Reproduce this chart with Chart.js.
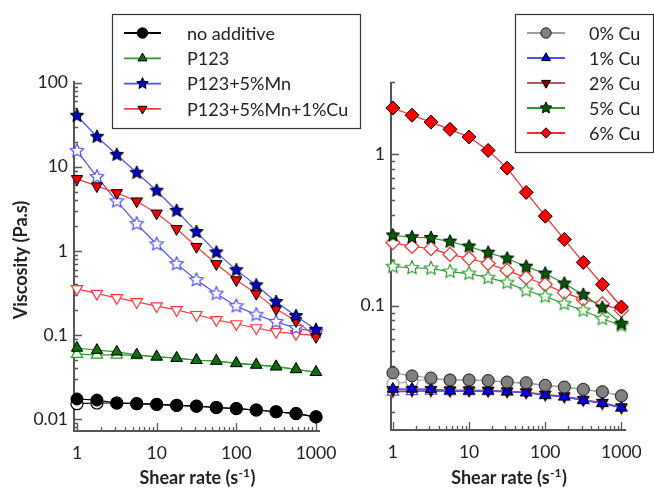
<!DOCTYPE html>
<html>
<head>
<meta charset="utf-8">
<script src="https://cdn.jsdelivr.net/npm/chart.js@4.4.1/dist/chart.umd.min.js"></script>
<style>
  body { margin: 0; background: #fff; }
  #wrap { position: relative; width: 654px; height: 489px; }
  #leftBox { position: absolute; left: 0; top: 0; }
  #rightBox { position: absolute; left: 335px; top: 0; }
</style>
</head>
<body>
<div id="wrap">
  <div id="leftBox"><canvas id="leftChart" width="370" height="489"></canvas></div>
  <div id="rightBox"><canvas id="rightChart" width="319" height="489"></canvas></div>
</div>
<script>
// data

const shearRate = [1, 1.78, 3.16, 5.62, 10, 17.8, 31.6, 56.2, 100, 178, 316, 562, 1000];

// left panel
const noAdditive     = [0.0173, 0.0168, 0.0155, 0.0152, 0.0149, 0.0145, 0.0142, 0.0137, 0.0133, 0.0128, 0.0122, 0.0116, 0.0106];
const noAdditiveOpen = [0.0152, 0.0155, 0.0155, 0.0152, 0.0149, 0.0145, 0.0142, 0.0137, 0.0133, 0.0128, 0.0122, 0.0116, 0.0106];
const p123           = [0.070, 0.066, 0.063, 0.058, 0.055, 0.053, 0.050, 0.049, 0.046, 0.044, 0.042, 0.039, 0.036];
const p123Open       = [0.059, 0.058, 0.058, 0.057, 0.055, 0.053, 0.050, 0.049, 0.046, 0.044, 0.042, 0.039, 0.036];
const p123Mn         = [40.5, 22.8, 13.9, 8.5, 5.2, 3.0, 1.68, 0.96, 0.59, 0.39, 0.247, 0.168, 0.115];
const p123MnOpen     = [15.5, 7.6, 3.9, 2.1, 1.2, 0.70, 0.45, 0.31, 0.22, 0.174, 0.143, 0.121, 0.109];
const p123MnCu       = [7.2, 5.9, 4.9, 3.9, 2.8, 1.83, 1.12, 0.70, 0.45, 0.31, 0.204, 0.147, 0.095];
const p123MnCuOpen   = [0.353, 0.31, 0.276, 0.247, 0.22, 0.199, 0.174, 0.151, 0.135, 0.121, 0.109, 0.103, 0.098];

// right panel
const cu0     = [0.036, 0.0344, 0.0333, 0.0323, 0.0323, 0.032, 0.0313, 0.031, 0.0298, 0.029, 0.028, 0.027, 0.0254];
const cu0Open = [0.0304, 0.0317, 0.0328, 0.0323, 0.0323, 0.032, 0.0313, 0.0306, 0.0298, 0.029, 0.028, 0.027, 0.0254];
const cu1     = [0.0282, 0.0282, 0.0281, 0.0275, 0.0274, 0.0274, 0.0271, 0.0267, 0.0257, 0.0251, 0.0238, 0.0227, 0.0212];
const cu1Open = [0.0270, 0.0272, 0.0274, 0.0272, 0.0272, 0.0272, 0.0270, 0.0266, 0.0256, 0.0250, 0.0237, 0.0226, 0.0211];
const cu2     = [0.0278, 0.0279, 0.0279, 0.0277, 0.0277, 0.0276, 0.0273, 0.0269, 0.0260, 0.0253, 0.0240, 0.0229, 0.0214];
const cu2Open = [0.0272, 0.0274, 0.0275, 0.0274, 0.0274, 0.0273, 0.0271, 0.0267, 0.0258, 0.0251, 0.0238, 0.0227, 0.0212];
const cu5     = [0.291, 0.283, 0.28, 0.265, 0.246, 0.224, 0.205, 0.181, 0.163, 0.14, 0.118, 0.097, 0.076];
const cu5Open = [0.181, 0.178, 0.176, 0.168, 0.163, 0.153, 0.142, 0.126, 0.115, 0.103, 0.093, 0.082, 0.074];
const cu6     = [2.02, 1.81, 1.63, 1.46, 1.30, 1.06, 0.81, 0.56, 0.39, 0.274, 0.193, 0.138, 0.098];
const cu6Open = [0.261, 0.246, 0.238, 0.218, 0.205, 0.19, 0.171, 0.153, 0.138, 0.122, 0.11, 0.103, 0.093];

// tick labels
const xTicks = [1, 10, 100, 1000];
const leftYTicks = [0.01, 0.1, 1, 10, 100];
const rightYTicks = [0.1, 1];

const FONT = "Lato, 'Open Sans', sans-serif";
const AXIS = '#555';

// star marker (Chart.js' own 'star' is just lines)
function starPath(ctx, x, y, r) {
  ctx.beginPath();
  for (let i = 0; i < 10; i++) {
    const rr = i % 2 ? r * 0.48 : r;
    const a = -Math.PI / 2 + i * Math.PI / 5;
    const px = x + rr * Math.cos(a), py = y + rr * Math.sin(a);
    if (i === 0) ctx.moveTo(px, py); else ctx.lineTo(px, py);
  }
  ctx.closePath();
}
function starImg(fill, stroke, r, lw) {
  const c = document.createElement('canvas');
  c.width = c.height = Math.ceil(2 * r + 4);
  const g = c.getContext('2d');
  starPath(g, c.width / 2, c.height / 2, r);
  g.fillStyle = fill; g.fill();
  g.lineWidth = lw; g.strokeStyle = stroke; g.lineJoin = 'miter'; g.stroke();
  return c;
}

function series(values, s) {
  const isStar = s.style === 'star';
  return {
    label: s.label || '',
    data: values.map((v, i) => ({ x: shearRate[i], y: v })),
    borderColor: s.line,
    borderWidth: 1.2,
    tension: 0,
    clip: false,
    pointStyle: isStar ? starImg(s.fill, s.stroke, s.r, s.open ? 1.2 : 1) : s.style,
    pointRadius: s.r,
    pointRotation: s.rot || 0,
    pointBackgroundColor: s.fill,
    pointBorderColor: s.stroke,
    pointBorderWidth: s.open ? 1.2 : 1,
    legendStyle: s
  };
}

function logTicks(min, max) {
  const out = [];
  for (let d = Math.floor(Math.log10(min)); d <= Math.ceil(Math.log10(max)); d++) {
    for (let m = 1; m <= 9; m++) {
      const v = m * Math.pow(10, d);
      if (v >= min && v <= max) out.push({ v, major: m === 1 });
    }
  }
  return out;
}

function drawMarker(ctx, s, x, y, r) {
  ctx.save();
  ctx.fillStyle = s.fill; ctx.strokeStyle = s.stroke; ctx.lineWidth = 1;
  if (s.style === 'star') {
    starPath(ctx, x, y, r);
  } else if (s.style === 'circle') {
    ctx.beginPath(); ctx.arc(x, y, r, 0, Math.PI * 2);
  } else if (s.style === 'rectRot') {
    ctx.beginPath(); ctx.moveTo(x - r, y); ctx.lineTo(x, y - r); ctx.lineTo(x + r, y); ctx.lineTo(x, y + r); ctx.closePath();
  } else {
    const down = s.rot === 180 ? -1 : 1;
    ctx.beginPath();
    for (let i = 0; i < 3; i++) {
      const a = -Math.PI / 2 + i * 2 * Math.PI / 3;
      const px = x + r * Math.cos(a), py = y + down * r * Math.sin(a);
      if (i === 0) ctx.moveTo(px, py); else ctx.lineTo(px, py);
    }
    ctx.closePath();
  }
  ctx.fill(); ctx.stroke();
  ctx.restore();
}

const framePlugin = {
  id: 'frame',
  beforeDatasetsDraw(chart, args, p) {
    const { ctx, chartArea: a, scales: { x, y } } = chart;
    ctx.save();
    ctx.strokeStyle = AXIS;
    ctx.lineWidth = 2;
    ctx.beginPath();
    ctx.moveTo(a.left, a.top); ctx.lineTo(a.left, a.bottom); ctx.lineTo(a.right, a.bottom);
    ctx.stroke();
    ctx.lineWidth = 1.3;
    ctx.beginPath();
    logTicks(x.min, x.max).forEach(t => {
      const px = Math.round(x.getPixelForValue(t.v)) + 0.5;
      ctx.moveTo(px, a.bottom); ctx.lineTo(px, a.bottom - (t.major ? 8 : 4));
    });
    logTicks(y.min, y.max).forEach(t => {
      const py = Math.round(y.getPixelForValue(t.v)) + 0.5;
      ctx.moveTo(a.left, py); ctx.lineTo(a.left + (t.major ? 8 : 4), py);
    });
    ctx.stroke();
    ctx.restore();
  },
  afterDraw(chart, args, p) {
    const { ctx, chartArea: a } = chart;
    ctx.save();
    ctx.fillStyle = '#222';
    // x title with superscript
    const big = 'bold 18px ' + FONT, small = 'bold 12px ' + FONT;
    const t1 = 'Shear rate (s', t2 = '-1', t3 = ')';
    ctx.font = big; const w1 = ctx.measureText(t1).width, w3 = ctx.measureText(t3).width;
    ctx.font = small; const w2 = ctx.measureText(t2).width;
    let tx = (a.left + a.right) / 2 - (w1 + w2 + w3) / 2;
    ctx.textBaseline = 'alphabetic'; ctx.textAlign = 'left';
    ctx.font = big; ctx.fillText(t1, tx, p.xTitleY); tx += w1 + 0.5;
    ctx.font = small; ctx.fillText(t2, tx, p.xTitleY - 7); tx += w2 + 0.5;
    ctx.font = big; ctx.fillText(t3, tx, p.xTitleY);
    if (p.yTitle) {
      ctx.translate(p.yTitleX, (a.top + a.bottom) / 2 + 4);
      ctx.rotate(-Math.PI / 2);
      ctx.textAlign = 'center'; ctx.textBaseline = 'middle';
      ctx.font = big;
      ctx.fillText(p.yTitle, 0, 0);
      ctx.setTransform(1, 0, 0, 1, 0, 0);
    }
    // legend
    const L = p.legend;
    ctx.fillStyle = '#fff';
    ctx.fillRect(L.x, L.y, L.w, L.h);
    ctx.strokeStyle = '#333'; ctx.lineWidth = 1.2;
    ctx.strokeRect(L.x + 0.5, L.y + 0.5, L.w, L.h);
    const entries = chart.data.datasets.filter(d => d.label);
    entries.forEach((d, i) => {
      const yy = L.row0 + i * L.step;
      ctx.strokeStyle = d.borderColor; ctx.lineWidth = 1.8;
      ctx.beginPath(); ctx.moveTo(L.lx1, yy); ctx.lineTo(L.lx2, yy); ctx.stroke();
      const s = d.legendStyle;
      drawMarker(ctx, s, (L.lx1 + L.lx2) / 2, yy, s.style === 'star' ? 6 : 5.2);
      ctx.fillStyle = '#222'; ctx.font = '18px ' + FONT;
      ctx.textAlign = 'left'; ctx.textBaseline = 'middle';
      ctx.fillText(d.label, L.tx, yy + 1);
    });
    ctx.restore();
  }
};

function numLabel(v) { return String(Number(v.toPrecision(3))); }

function makeChart(id, datasets, p) {
  return new Chart(document.getElementById(id), {
    type: 'line',
    data: { datasets },
    plugins: [framePlugin],
    options: {
      responsive: false,
      animation: false,
      events: [],
      layout: { padding: { top: p.top, right: p.right, left: 0, bottom: 0 } },
      plugins: { legend: { display: false }, tooltip: { enabled: false }, frame: p },
      scales: {
        x: {
          type: 'logarithmic', min: p.xMin, max: p.xMax,
          grid: { display: false, drawTicks: false }, border: { display: false },
          afterBuildTicks: s => { s.ticks = xTicks.map(v => ({ value: v })); },
          ticks: { autoSkip: false, maxRotation: 0, padding: 12, color: '#222',
                   font: { family: FONT, size: 17.5 }, callback: numLabel },
          afterFit: s => { s.height = p.bottomH; }
        },
        y: {
          type: 'logarithmic', min: p.yMin, max: p.yMax,
          grid: { display: false, drawTicks: false }, border: { display: false },
          afterBuildTicks: s => { s.ticks = p.yTicks.map(v => ({ value: v })); },
          ticks: { autoSkip: false, padding: 6, color: '#222',
                   font: { family: FONT, size: 17.5 }, callback: numLabel },
          afterFit: s => { s.width = p.leftW; }
        }
      }
    }
  });
}

const lBlack = { line: '#000', fill: '#000', stroke: '#000', style: 'circle', r: 6 };
const lGreen = { line: '#2a9a2a', fill: '#0c6e0c', stroke: '#000', style: 'triangle', r: 6.5 };
const lBlue  = { line: '#4d4dff', fill: '#0000c0', stroke: '#000', style: 'star', r: 7 };
const lRed   = { line: '#ff3a3a', fill: '#f00000', stroke: '#000', style: 'triangle', r: 6.5, rot: 180 };
const open = (s) => Object.assign({}, s, { fill: '#fff', stroke: s.line, open: true, label: '' });

makeChart('leftChart', [
  series(noAdditive, Object.assign({ label: 'no additive' }, lBlack)),
  series(p123, Object.assign({ label: 'P123' }, lGreen)),
  series(p123Mn, Object.assign({ label: 'P123+5%Mn' }, lBlue)),
  series(p123MnCu, Object.assign({ label: 'P123+5%Mn+1%Cu' }, lRed)),
  series(noAdditiveOpen, open(lBlack)),
  series(p123Open, open(lGreen)),
  series(p123MnOpen, open(lBlue)),
  series(p123MnCuOpen, open(lRed))
], {
  top: 81, right: 50, leftW: 74, bottomH: 58,
  xMin: 0.917, xMax: 1123, yMin: 0.0072, yMax: 105, yTicks: leftYTicks,
  xTitleY: 484, yTitle: 'Viscosity (Pa.s)', yTitleX: 21,
  legend: { x: 112, y: 14, w: 248, h: 114, row0: 33, step: 25.3, lx1: 124, lx2: 161, tx: 187 }
});

const rGray  = { line: '#a0a0a0', fill: '#808080', stroke: '#222', style: 'circle', r: 6 };
const rBlue  = { line: '#5050ff', fill: '#0000e0', stroke: '#000', style: 'triangle', r: 6.5 };
const rBrown = { line: '#b05a5a', fill: '#800000', stroke: '#000', style: 'triangle', r: 6.5, rot: 180 };
const rGreen = { line: '#2a9a2a', fill: '#005a00', stroke: '#000', style: 'star', r: 7 };
const rRed   = { line: '#ff2a2a', fill: '#ff0000', stroke: '#000', style: 'rectRot', r: 7 };

makeChart('rightChart', [
  series(cu0, Object.assign({ label: '0% Cu' }, rGray)),
  series(cu1, Object.assign({ label: '1% Cu' }, rBlue)),
  series(cu2, Object.assign({ label: '2% Cu' }, rBrown)),
  series(cu5, Object.assign({ label: '5% Cu' }, rGreen)),
  series(cu6, Object.assign({ label: '6% Cu' }, rRed)),
  series(cu0Open, open(rGray)),
  series(cu1Open, open(rBlue)),
  series(cu2Open, open(rBrown)),
  series(cu5Open, open(rGreen)),
  series(cu6Open, open(rRed))
], {
  top: 82, right: 14, leftW: 56, bottomH: 59,
  xMin: 0.944, xMax: 1153, yMin: 0.0151, yMax: 3, yTicks: rightYTicks,
  xTitleY: 484, yTitle: '',
  legend: { x: 180, y: 14, w: 138, h: 138, row0: 33, step: 25, lx1: 192, lx2: 230, tx: 254 }
});
</script>
</body>
</html>
